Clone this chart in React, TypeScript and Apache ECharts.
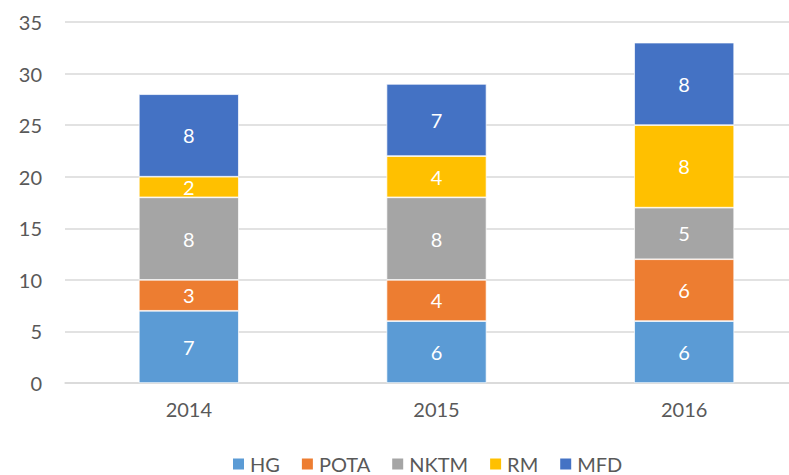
import React, { useEffect, useRef } from "react";
import * as echarts from "echarts";

const categories = ["2014", "2015", "2016"];
const seriesNames = ["HG", "POTA", "NKTM", "RM", "MFD"];
const hg = [7, 6, 6];
const pota = [3, 4, 6];
const nktm = [8, 8, 5];
const rm = [2, 4, 8];
const mfd = [8, 7, 8];
const colors = ["#5B9BD5", "#ED7D31", "#A5A5A5", "#FFC000", "#4472C4"];
const yTicks = { min: 0, max: 35, interval: 5 };

export default function App() {
  const ref = useRef<HTMLDivElement>(null);
  useEffect(() => {
    if (!ref.current) return;
    const chart = echarts.init(ref.current, undefined, { renderer: "svg" });
    const values = [hg, pota, nktm, rm, mfd];
    const font = "Lato, 'Open Sans', sans-serif";
    chart.setOption({
      animation: false,
      textStyle: { fontFamily: font },
      grid: { left: 65, right: 0, top: 22, bottom: 92, containLabel: false },
      legend: {
        data: seriesNames,
        left: 226,
        top: 449,
        itemWidth: 13,
        itemHeight: 13,
        itemGap: 20,
        icon: "rect",
        textStyle: { fontSize: 20, lineHeight: 20, color: "#595959", fontFamily: font },
      },
      xAxis: {
        type: "category",
        data: categories,
        axisTick: { show: false },
        axisLine: { lineStyle: { color: "#D9D9D9", width: 1.5 } },
        axisLabel: { fontSize: 20, color: "#595959", margin: 16, fontFamily: font },
      },
      yAxis: {
        type: "value",
        min: yTicks.min,
        max: yTicks.max,
        interval: yTicks.interval,
        axisLine: { show: false },
        axisTick: { show: false },
        splitLine: { lineStyle: { color: "#D9D9D9", width: 1.5 } },
        axisLabel: { fontSize: 20, color: "#595959", margin: 23, fontFamily: font },
      },
      series: seriesNames.map((name, i) => ({
        name,
        type: "bar",
        stack: "total",
        barWidth: 100,
        data: values[i],
        itemStyle: { color: colors[i], borderColor: "#ffffff", borderWidth: 0.7 },
        label: {
          show: true,
          position: "inside",
          color: "#ffffff",
          fontSize: 20,
          fontFamily: font,
        },
      })),
    });
    return () => chart.dispose();
  }, []);
  return (
    <div style={{ position: "fixed", left: 0, top: 0, width: 789, height: 475, overflow: "hidden", background: "#fff" }}>
      <div ref={ref} style={{ position: "absolute", left: 0, top: 0, width: 808, height: 475 }} />
    </div>
  );
}
